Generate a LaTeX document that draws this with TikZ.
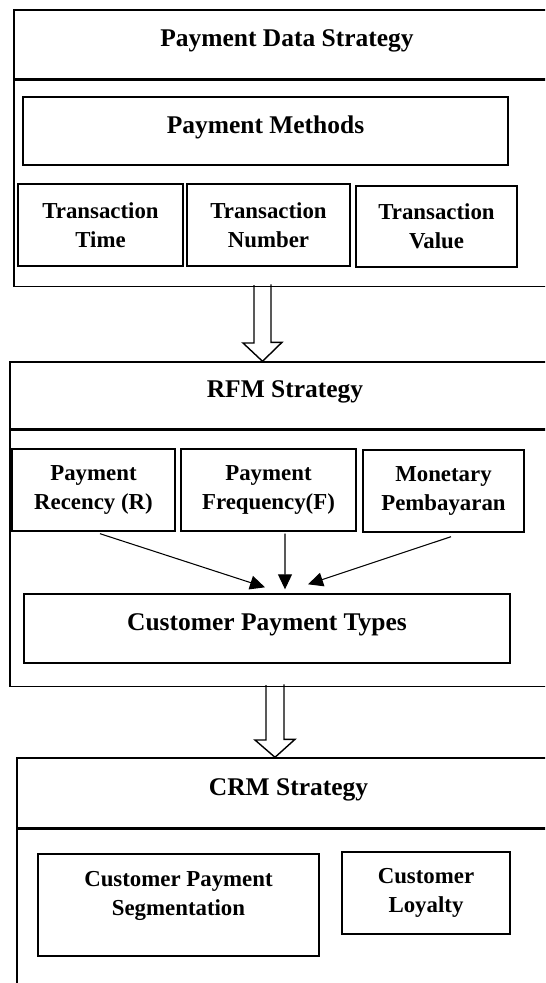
\documentclass[tikz,border=0pt]{standalone}
\usepackage{fontspec}
\setmainfont{Liberation Serif}
\usetikzlibrary{arrows.meta, positioning, calc}

\begin{document}
\begin{tikzpicture}[
    x=0.02cm, y=-0.02cm,
    panel/.style={draw, line width=0.8pt, inner sep=0pt},
    title/.style={panel, font=\bfseries\fontsize{14.5}{17}\selectfont, text depth=0.24cm},
    box/.style={draw, line width=0.8pt, align=center, font=\bfseries\fontsize{13}{16.5}\selectfont},
    wide/.style={draw, line width=0.8pt, font=\bfseries\fontsize{14.5}{17}\selectfont, text depth=0.24cm},
    hollow/.style={draw, line width=0.8pt},
    link/.style={-{Triangle[length=0.3cm, width=0.28cm]}, line width=0.6pt}
]
    \useasboundingbox (0,0) rectangle (545,983);
    \clip (0,0) rectangle (545,983);

    % Payment data strategy
    \node[title, minimum width=10.92cm, minimum height=1.38cm] (pdshead) at (287,44.5) {Payment Data Strategy};
    \node[panel, minimum width=10.92cm, minimum height=4.12cm, below=0pt of pdshead] (pdsbody) {};
    \node[wide, minimum width=9.7cm, minimum height=1.36cm] (methods) at (265.5,131) {Payment Methods};
    \node[box, minimum width=3.3cm, minimum height=1.64cm] (ttime) at (100.5,225) {Transaction\\Time};
    \node[box, minimum width=3.26cm, minimum height=1.64cm] (tnumber) at (268.5,225) {Transaction\\Number};
    \node[box, minimum width=3.22cm, minimum height=1.62cm] (tvalue) at (436.5,226.5) {Transaction\\Value};

    % RFM strategy
    \node[title, minimum width=11cm, minimum height=1.34cm] (rfmhead) at (285,395.5) {RFM Strategy};
    \node[panel, minimum width=11cm, minimum height=5.12cm, below=0pt of rfmhead] (rfmbody) {};
    \node[box, minimum width=3.26cm, minimum height=1.64cm] (recency) at (93.5,490) {Payment\\Recency (R)};
    \node[box, minimum width=3.5cm, minimum height=1.64cm] (frequency) at (268.5,490) {Payment\\Frequency(F)};
    \node[box, minimum width=3.22cm, minimum height=1.64cm] (monetary) at (443.5,491) {Monetary\\Pembayaran};
    \node[wide, minimum width=9.72cm, minimum height=1.38cm] (types) at (267,628.5) {Customer Payment Types};

    % CRM strategy
    \node[title, minimum width=10.86cm, minimum height=1.4cm] (crmhead) at (288.5,793) {CRM Strategy};
    \node[panel, minimum width=10.86cm, minimum height=3.44cm, below=0pt of crmhead] (crmbody) {};
    \node[box, minimum width=5.62cm, minimum height=2.04cm, text depth=0.45cm] (segment) at (178.5,905) {Customer Payment\\Segmentation};
    \node[box, minimum width=3.36cm, minimum height=1.64cm] (loyalty) at (426,893) {Customer\\Loyalty};

    % RFM arrows
    \draw[link] ([xshift=0.13cm, yshift=-0.04cm]recency.south) -- ([xshift=-0.04cm, yshift=0.12cm]types.north);
    \draw[link] ([xshift=0.33cm, yshift=-0.04cm]frequency.south) -- ([xshift=0.36cm, yshift=0.08cm]types.north);
    \draw[link] ([xshift=0.15cm, yshift=-0.08cm]monetary.south) -- ([xshift=0.82cm, yshift=0.18cm]types.north);

    % Hollow arrows between strategies
    \coordinate (flowA) at (262.5,285);
    \draw[hollow] (flowA) ++(-8.5,0) -- ++(0,58) -- ++(-11,0) -- (flowA |- rfmhead.north)
        -- ++(19.5,-19) -- ++(-11,0) -- ++(0,-58);
    \coordinate (flowB) at (275,685);
    \draw[hollow] (flowB) ++(-9,0) -- ++(0,55) -- ++(-11,0) -- (flowB |- crmhead.north)
        -- ++(20,-18) -- ++(-11,0) -- ++(0,-55);
\end{tikzpicture}
\end{document}
